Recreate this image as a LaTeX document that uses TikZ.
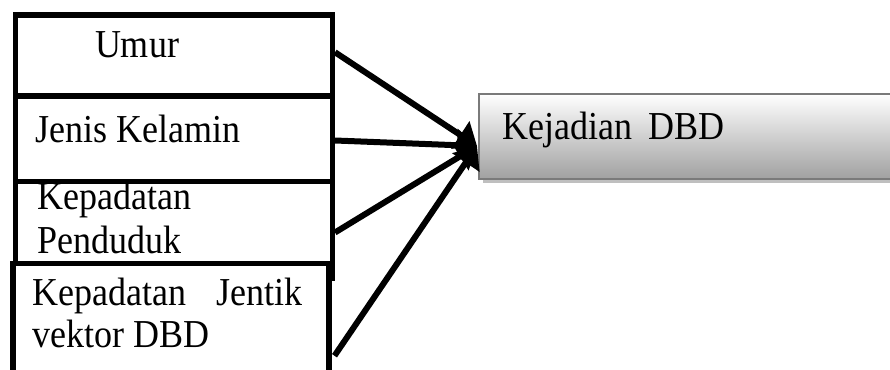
\documentclass[tikz,border=0pt]{standalone}
\usepackage{fontspec}
\setmainfont{Liberation Serif}
\usetikzlibrary{arrows.meta,shadows}
\newcommand\vstretch[1]{\scalebox{1}[1.1]{#1}}
\begin{document}
\begin{tikzpicture}[x=1pt,y=-1pt,
  box/.style={draw=black,line width=5.5pt,fill=white,rectangle,inner sep=0pt},
  lbl/.style={inner sep=0pt,font=\fontsize{36}{43}\selectfont},
  conn/.style={line width=6pt,-{Triangle[length=20pt,width=32pt]}},
  target/.style={draw=black!52,line width=1.5pt,rectangle,inner sep=0pt,
    top color=white,bottom color=black!37,
    drop shadow={shadow xshift=4pt,shadow yshift=-4pt,fill=black!25,opacity=1}}]
\useasboundingbox (0,0) rectangle (890,369);
\clip (0,0) rectangle (890,369);
% boxes
\node[box,minimum width=317pt,minimum height=90pt,anchor=north west] (b1) at (12.5,12.5) {};
\node[box,minimum width=317pt,minimum height=85.5pt,anchor=north west] (b2) at (12.5,93) {};
\node[box,minimum width=317pt,minimum height=96.5pt,anchor=north west] (b3) at (12.5,178.5) {};
\node[box,minimum width=316pt,minimum height=115pt,anchor=north west] (b4) at (10,260.5) {};
% target
\node[target,minimum width=420pt,minimum height=85pt,anchor=north west] (t) at (478,93) {};
% labels
\node[lbl,anchor=base] (l1) at (137,57) {\vstretch{Umur}};
\node[lbl,anchor=base west] (l2) at (35,142) {\vstretch{Jenis Kelamin}};
\node[lbl,anchor=base west] (l3a) at (37,209) {\vstretch{Kepadatan}};
\node[lbl,anchor=base west] (l3b) at (37,253) {\vstretch{Penduduk}};
\node[lbl,anchor=base west] (l4a) at (32,305) {\vstretch{\makebox[270pt][l]{Kepadatan\hfill Jentik}}};
\node[lbl,anchor=base west] (l4b) at (32,347) {\vstretch{vektor DBD}};
\node[lbl,anchor=base west] (lt) at (502,139) {\vstretch{Kejadian\hspace{16pt}DBD}};
% connectors
\coordinate (tip) at (477,146);
\draw[conn] ([yshift=8pt]b1.east) -- (tip);
\draw[conn] ([yshift=-2pt]b2.east) -- (tip);
\draw[conn] ([yshift=-3pt]b3.east) -- (tip);
\draw[conn] ([xshift=3pt,yshift=-35pt]b4.east) -- (tip);
\end{tikzpicture}
\end{document}
